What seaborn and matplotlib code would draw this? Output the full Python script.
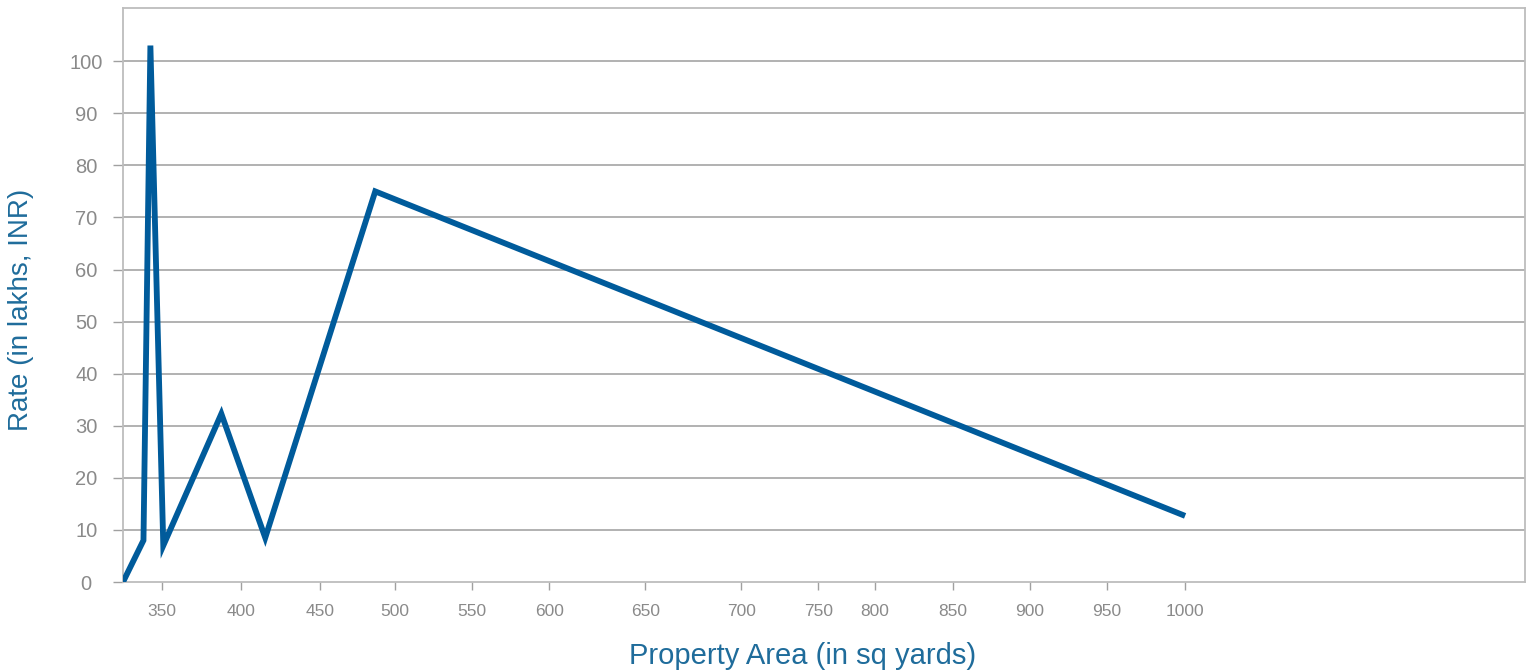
import matplotlib
matplotlib.use("Agg")
import matplotlib.pyplot as plt
import seaborn as sns
import pandas as pd

# Property area (sq yards) and rate (lakhs, INR)
area = [325, 338, 342.4, 350.6, 387.5, 415.4, 485.3, 1000]
rate = [0, 8, 103, 7, 32.3, 8.5, 75, 12.7]

# X axis ticks: where each tick sits and the text it carries
x_tick_locs = [350, 400, 450, 498, 547, 596, 657, 718, 767, 803, 852.5, 901.5, 950.4, 1000]
x_tick_labels = ["350", "400", "450", "500", "550", "600", "650", "700",
                 "750", "800", "850", "900", "950", "1000"]
y_ticks = [0, 10, 20, 30, 40, 50, 60, 70, 80, 90, 100]

sns.set_theme(style="white")
plt.rcParams["font.family"] = ["Liberation Sans", "DejaVu Sans"]

df = pd.DataFrame({"area": area, "rate": rate})

fig = plt.figure(figsize=(15.3, 6.7), dpi=100)
ax = fig.add_axes([0.0804, 0.1313, 0.9163, 0.8567])

sns.lineplot(data=df, x="area", y="rate", ax=ax, sort=False, estimator=None,
             color="#005b9b", linewidth=4.2, solid_joinstyle="miter",
             solid_capstyle="butt", zorder=3)

ax.set_xlim(325, 1216)
ax.set_ylim(0, 110.2)

ax.set_yticks(y_ticks)
ax.set_yticklabels([str(v) for v in y_ticks], ha="center")
ax.set_xticks(x_tick_locs)
ax.set_xticklabels(x_tick_labels)

for v in y_ticks[1:]:
    ax.axhline(v, color="#ababab", linewidth=1.3, zorder=1)

for side in ["left", "right", "top", "bottom"]:
    ax.spines[side].set_visible(True)
    ax.spines[side].set_color("#bdbdbd")
    ax.spines[side].set_linewidth(1.3)

ax.tick_params(axis="y", which="major", left=True, length=7.5, width=1.0,
               color="#a0a0a0", pad=19, labelsize=14.5, labelcolor="#8a8a8a")
ax.tick_params(axis="x", which="major", bottom=True, length=6, width=1.0,
               color="#a0a0a0", pad=10, labelsize=12.5, labelcolor="#8a8a8a")

ax.set_xlabel("Property Area (in sq yards)", fontsize=21, color="#1f6c9b")
ax.set_ylabel("Rate (in lakhs, INR)", fontsize=20, color="#1f6c9b")
ax.xaxis.set_label_coords(0.4845, -0.104)
ax.yaxis.set_label_coords(-0.0635, 0.474)

fig.savefig("out.png", dpi=100)
